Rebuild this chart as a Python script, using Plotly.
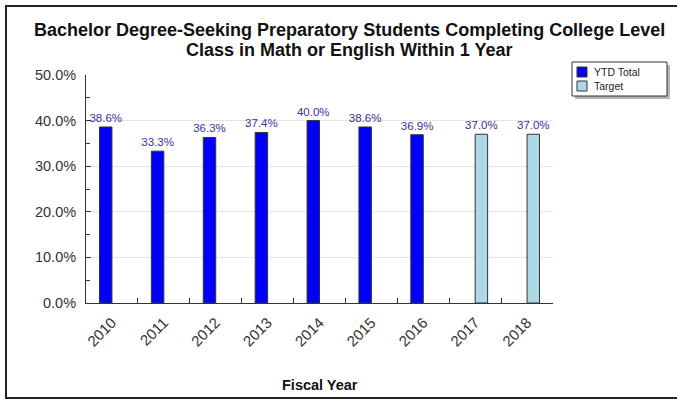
import plotly.graph_objects as go

years = ["2010", "2011", "2012", "2013", "2014", "2015", "2016", "2017", "2018"]
ytd_total = [0.386, 0.333, 0.363, 0.374, 0.400, 0.386, 0.369, None, None]
target = [None, None, None, None, None, None, None, 0.370, 0.370]
series_names = ["YTD Total", "Target"]
series_colors = ["#0000FF", "#ADD8E6"]

W, H = 677, 400
L, R, T, B = 86, 124, 75, 97
pw, ph = W - L - R, H - T - B
FONT = "Liberation Sans, Arial"

def px(x):
    return (x - L) / pw

def py(y):
    return (H - B - y) / ph

def labels(vals):
    return [f"{v*100:.1f}%" if v is not None else "" for v in vals]

fig = go.Figure()
for name, vals, col in zip(series_names, [ytd_total, target], series_colors):
    fig.add_trace(go.Bar(
        x=years, y=vals, name=name,
        marker=dict(color=col, line=dict(color="#333333", width=1)),
        text=labels(vals), textposition="outside", constraintext="none",
        textfont=dict(color="#333399", size=11.5, family=FONT),
        cliponaxis=False, showlegend=False,
    ))

shapes = [
    # outer frame
    dict(type="rect", xref="paper", yref="paper",
         x0=px(6), x1=px(690), y0=py(398), y1=py(6),
         line=dict(color="#222222", width=2), fillcolor="rgba(0,0,0,0)", layer="below"),
    # legend shadow
    dict(type="rect", xref="paper", yref="paper",
         x0=px(575), x1=px(670), y0=py(99), y1=py(65),
         line=dict(width=0), fillcolor="#b4b4b4", layer="above"),
    # legend box
    dict(type="rect", xref="paper", yref="paper",
         x0=px(572), x1=px(667), y0=py(96), y1=py(62),
         line=dict(color="#333333", width=1), fillcolor="white", layer="above"),
]
annotations = []
for i, (name, col) in enumerate(zip(series_names, series_colors)):
    yc = 72 + i * 14
    shapes.append(dict(type="rect", xref="paper", yref="paper",
                       x0=px(577), x1=px(587), y0=py(yc + 5), y1=py(yc - 5),
                       line=dict(color="#333333", width=1), fillcolor=col, layer="above"))
    annotations.append(dict(xref="paper", yref="paper", x=px(592), y=py(yc),
                            xanchor="left", yanchor="middle", showarrow=False,
                            text=name, font=dict(size=10.5, color="#222222", family=FONT)))

annotations += [
    dict(xref="paper", yref="paper", x=px(349), y=py(30), xanchor="center", yanchor="middle",
         showarrow=False, text="<b>Bachelor Degree-Seeking Preparatory Students Completing College Level</b>",
         font=dict(size=18, color="#111111", family=FONT)),
    dict(xref="paper", yref="paper", x=px(349), y=py(50), xanchor="center", yanchor="middle",
         showarrow=False, text="<b>Class in Math or English Within 1 Year</b>",
         font=dict(size=18, color="#111111", family=FONT)),
    dict(xref="paper", yref="paper", x=px(319.5), y=py(385), xanchor="center", yanchor="middle",
         showarrow=False, text="<b>Fiscal Year</b>",
         font=dict(size=14.5, color="#111111", family=FONT)),
]

fig.update_layout(
    width=W, height=H,
    margin=dict(l=L, r=R, t=T, b=B, autoexpand=False),
    paper_bgcolor="white", plot_bgcolor="white",
    barmode="group", bargap=0.52, bargroupgap=0,
    font=dict(family=FONT, color="#333333"),
    showlegend=False,
    shapes=shapes,
    annotations=annotations,
)

fig.update_xaxes(
    type="category",
    showline=True, linecolor="#333333", linewidth=1,
    ticks="inside", ticklen=5, tickcolor="#333333", tickson="boundaries",
    tickangle=-45, tickfont=dict(size=15, color="#333333"),
    ticklabelstandoff=4,
    showgrid=False,
)
fig.update_yaxes(
    range=[0, 0.5], dtick=0.1, tickformat=".1%",
    showline=True, linecolor="#333333", linewidth=1,
    ticks="inside", ticklen=5, tickcolor="#333333",
    minor=dict(dtick=0.05, ticks="inside", ticklen=4, tickcolor="#333333", showgrid=False),
    showgrid=True, gridcolor="#e4e4e4", gridwidth=1,
    tickfont=dict(size=14.5, color="#333333"),
    ticklabelstandoff=6,
    zeroline=False,
)

fig.write_html("out.html", config={"displayModeBar": False},
               post_script="document.body.style.margin='0';document.body.style.overflow='hidden';")
